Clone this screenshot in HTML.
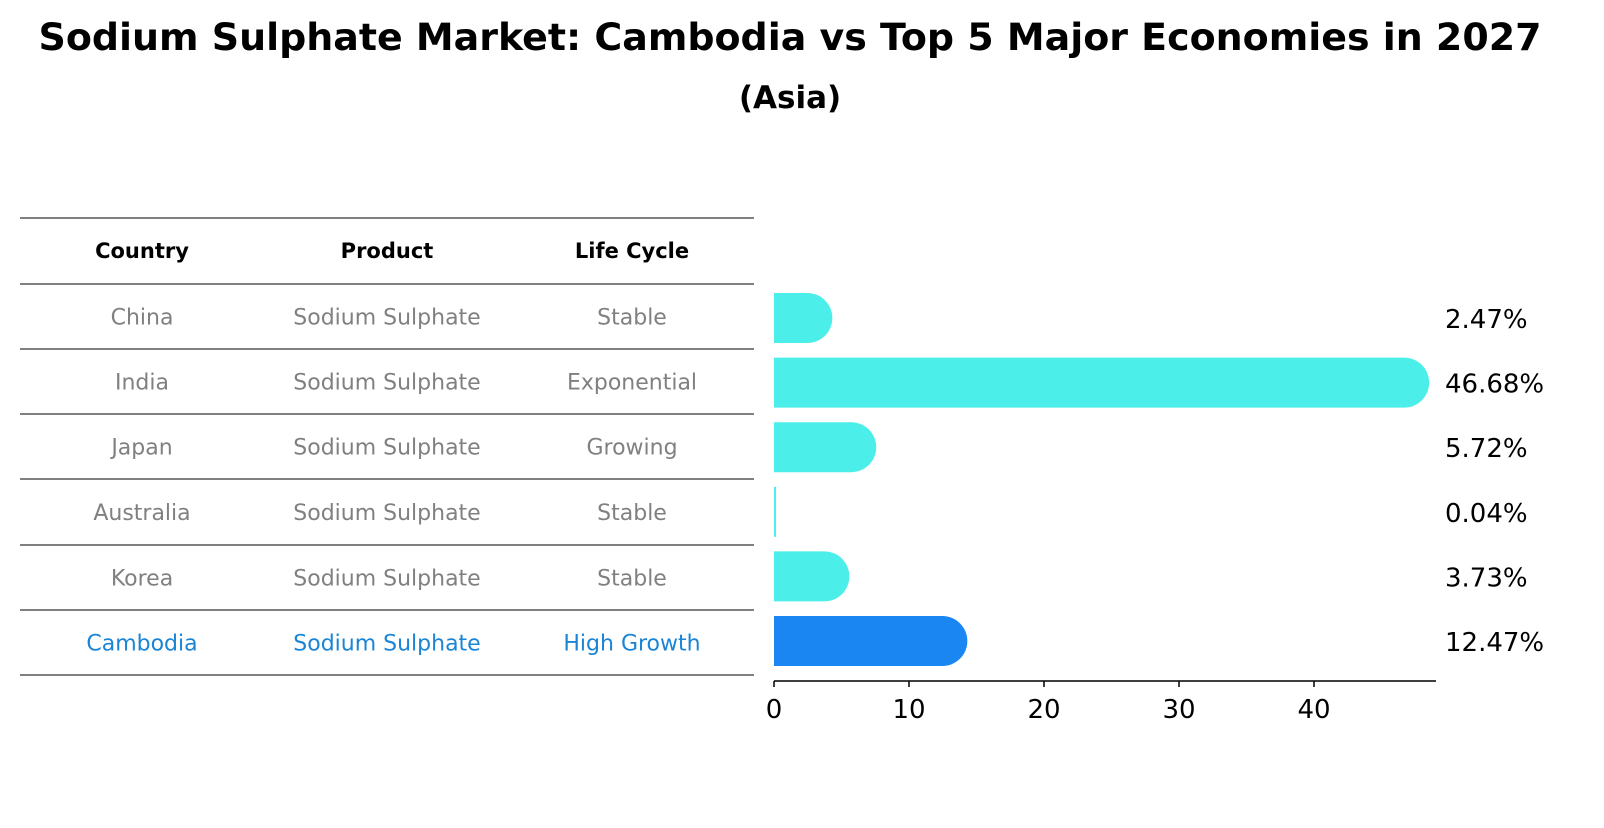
<!DOCTYPE html>
<html><head><meta charset="utf-8"><style>
body{margin:0;background:#fff;font-family:"Liberation Sans","DejaVu Sans",sans-serif;}
svg text{font-family:"DejaVu Sans","Liberation Sans",sans-serif;}
</style></head><body>
<svg id="c" width="1604" height="823" xmlns="http://www.w3.org/2000/svg">
<text x="790" y="50" text-anchor="middle" font-size="37" font-weight="bold" textLength="1503" lengthAdjust="spacingAndGlyphs">Sodium Sulphate Market: Cambodia vs Top 5 Major Economies in 2027</text>
<text x="790" y="108" text-anchor="middle" font-size="31" font-weight="bold">(Asia)</text>
<g id="table"></g>
<g id="bars"></g>
</svg>
<script>
const countries=["China","India","Japan","Australia","Korea","Cambodia"];
const products=["Sodium Sulphate","Sodium Sulphate","Sodium Sulphate","Sodium Sulphate","Sodium Sulphate","Sodium Sulphate"];
const lifeCycles=["Stable","Exponential","Growing","Stable","Stable","High Growth"];
const shares=[2.47,46.68,5.72,0.04,3.73,12.47];
const xTicks=[0,10,20,30,40];
const NS="http://www.w3.org/2000/svg";
function mk(tag,attrs,parent,txt){const e=document.createElementNS(NS,tag);for(const k in attrs)e.setAttribute(k,attrs[k]);if(txt!==undefined)e.textContent=txt;parent.appendChild(e);return e;}
const tbl=document.getElementById('table');
const lines=[218,284,349,414,479,545,610,675];
lines.forEach(y=>{const l=mk('line',{x1:20,x2:754,y1:y,y2:y,stroke:'#000','stroke-width':1},tbl);

});
const colX=[142,387,632];
["Country","Product","Life Cycle"].forEach((h,i)=>{const t=mk('text',{x:colX[i],y:258,'text-anchor':'middle','font-size':21,'font-weight':'bold'},tbl,h);

});
for(let r=0;r<countries.length;r++){
 const y=(lines[r+1]+lines[r+2])/2+8;
 const col=r===countries.length-1?'#1a85d6':'#808080';
 [countries[r],products[r],lifeCycles[r]].forEach((v,i)=>{const t=mk('text',{x:colX[i],y:y,'text-anchor':'middle','font-size':22,fill:col},tbl,v);
 
 });
}
const bg=document.getElementById('bars');
const x0=774,pxPer=13.5;
const xs=v=>x0+v*pxPer;
const yc=i=>318+i*64.6;
const bh=50;
shares.forEach((v,i)=>{
 const cy=yc(i),top=cy-bh/2,xe=xs(v),r=bh/2;
 const col=i===shares.length-1?'#1a86f2':'#4beee8';
 let d;
 if(v<0.5){d=`M${x0},${top}h2v${bh}h-2z`;}
 else d=`M${x0},${top}H${xe}A${r},${r} 0 0 1 ${xe},${top+bh}H${x0}Z`;
 const p=mk('path',{d:d,fill:col},bg);
 
 
 const t=mk('text',{x:1445,y:cy+10,'font-size':26},bg,v.toFixed(2)+'%');
 
 
});
const ax=mk('line',{x1:x0,x2:1436,y1:681,y2:681,stroke:'#000','stroke-width':1.5},bg);


xTicks.forEach(v=>{
 const l=mk('line',{x1:xs(v),x2:xs(v),y1:681,y2:687,stroke:'#000','stroke-width':1.5},bg);
 
 
 const t=mk('text',{x:xs(v),y:718,'text-anchor':'middle','font-size':26},bg,String(v));
 
 
});
</script>
</body></html>
